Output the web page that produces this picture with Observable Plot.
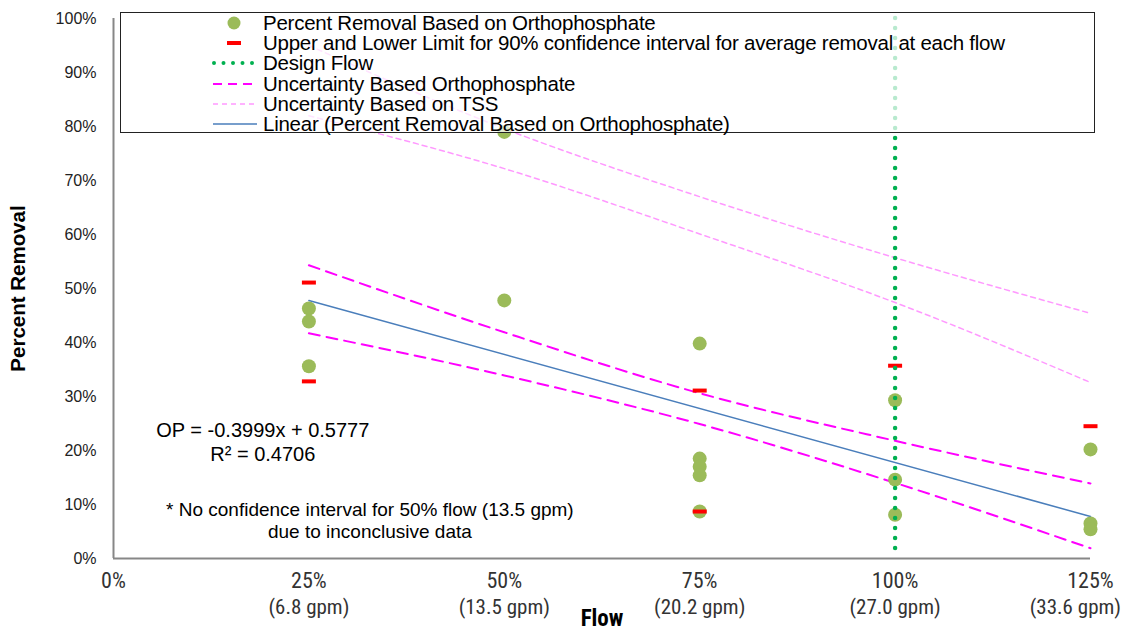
<!DOCTYPE html>
<html><head><meta charset="utf-8">
<script src="https://cdn.jsdelivr.net/npm/d3@7"></script>
<script src="https://cdn.jsdelivr.net/npm/@observablehq/plot@0.6"></script>
<style>
body{margin:0;background:#fff;font-family:"Liberation Sans",Arial,sans-serif;}
#wrap{position:relative;width:1125px;height:633px;overflow:hidden}
#legend{position:absolute;left:120px;top:12px;width:975px;height:121px;border:1.5px solid #222;background:rgba(255,255,255,0.72);box-sizing:border-box;}
.row{position:absolute;left:90px;height:20px;display:flex;align-items:center;font-size:20.5px;line-height:20px;color:#000;white-space:nowrap;letter-spacing:-0.25px}
.row svg{width:48px;height:20px;margin-right:4px;flex:none}
</style></head>
<body><div id="wrap"></div>
<script>
// ---- data ----
const flowTicks = [0, 0.25, 0.5, 0.75, 1.0, 1.25];
const flowPctLabels = ["0%", "25%", "50%", "75%", "100%", "125%"];
const gpmLabels = ["", "(6.8 gpm)", "(13.5 gpm)", "(20.2 gpm)", "(27.0 gpm)", "(33.6 gpm)"];
const yTicks = [0, 0.1, 0.2, 0.3, 0.4, 0.5, 0.6, 0.7, 0.8, 0.9, 1.0];

const removalFlow = [0.25, 0.25, 0.25, 0.5, 0.5, 0.75, 0.75, 0.75, 0.75, 0.75, 1.0, 1.0, 1.0, 1.25, 1.25, 1.25];
const removalPct  = [0.463, 0.439, 0.356, 0.478, 0.79, 0.398, 0.185, 0.170, 0.154, 0.087, 0.293, 0.146, 0.081, 0.202, 0.065, 0.054];

const limitFlow = [0.25, 0.25, 0.75, 0.75, 1.0, 1.25];
const limitPct  = [0.511, 0.328, 0.311, 0.087, 0.357, 0.245];

const bandFlow = [0.25, 0.5, 0.75, 1.0, 1.25];
const orthoUpper = [0.543, 0.419, 0.306, 0.218, 0.139];
const orthoLower = [0.417, 0.339, 0.249, 0.140, 0.019];
const tssUpper = [0.95, 0.796, 0.67, 0.557, 0.454];
const tssLower = [0.82, 0.722, 0.601, 0.474, 0.326];

const designFlow = [1.0];
const trendSlope = -0.3999, trendIntercept = 0.5777;
const trendFlow = [0.25, 1.25];

const equationText = "OP = -0.3999x + 0.5777\nR² = 0.4706";
const noteText = "* No confidence interval for 50% flow (13.5 gpm)\ndue to inconclusive data";

// ---- derived tables ----
const points = removalFlow.map((f, i) => ({flow: f, pct: removalPct[i]}));
const limits = limitFlow.map((f, i) => ({flow: f, pct: limitPct[i]}));
const band = (arr, name) => bandFlow.map((f, i) => ({flow: f, pct: arr[i], band: name}));
const ortho = [...band(orthoUpper, "u"), ...band(orthoLower, "l")];
const tss = [...band(tssUpper, "u"), ...band(tssLower, "l")];
const trend = trendFlow.map(f => ({flow: f, pct: trendSlope * f + trendIntercept}));

const barSymbol = {draw(ctx) { ctx.rect(-7, -2, 14, 4); }};
const narrow = "'Liberation Sans Narrow','Roboto Condensed','Liberation Sans',sans-serif";

const chart = Plot.plot({
  width: 1125, height: 633,
  marginLeft: 113, marginRight: 35, marginTop: 18, marginBottom: 75,
  style: {fontFamily: "'Liberation Sans', Arial, sans-serif", background: "transparent"},
  x: {domain: [0, 1.25]},
  y: {domain: [0, 1]},
  marks: [
    Plot.axisY({ticks: yTicks, tickFormat: d3.format(".0%"), tickSize: 0, tickPadding: 17, fontSize: 16, label: null, fill: "#222"}),
    Plot.axisX({ticks: flowTicks, tickFormat: (d, i) => flowPctLabels[i], tickSize: 0, tickPadding: 14, fontSize: 22, fontFamily: narrow, label: null, fill: "#333"}),
    Plot.axisX({ticks: flowTicks, tickFormat: (d, i) => gpmLabels[i], tickSize: 0, tickPadding: 41, fontSize: 21, fontFamily: narrow, letterSpacing: "0.5px", label: null, fill: "#333"}),
    Plot.text(["Flow"], {frameAnchor: "bottom", dy: 67, fontWeight: "bold", fontSize: 23, fontFamily: narrow, fill: "#000"}),
    Plot.text(["Percent Removal"], {frameAnchor: "left", textAnchor: "middle", dx: -95, rotate: -90, fontWeight: "bold", fontSize: 20.5, fill: "#000"}),
    Plot.line(tss, {x: "flow", y: "pct", z: "band", stroke: "#FF99FF", strokeWidth: 1.5, strokeDasharray: "5 4", curve: "monotone-x"}),
    Plot.line(ortho, {x: "flow", y: "pct", z: "band", stroke: "#FF00FF", strokeWidth: 2, strokeDasharray: "11 7", curve: "monotone-x"}),
    Plot.line(trend, {x: "flow", y: "pct", stroke: "#4A7EBB", strokeWidth: 1.5}),
    Plot.dot(points, {x: "flow", y: "pct", r: 7, fill: "#9BBB59"}),
    Plot.dot(limits, {x: "flow", y: "pct", symbol: barSymbol, fill: "#FF0000", r: 3}),
    Plot.ruleX(designFlow, {stroke: "#00B050", strokeWidth: 4.5, strokeDasharray: "0 10", strokeLinecap: "round"}),
    Plot.ruleX([0], {stroke: "#878787", strokeWidth: 2}),
    Plot.ruleY([0], {stroke: "#878787", strokeWidth: 2}),
    Plot.text([equationText], {x: 0.191, y: 0.217, fontSize: 20, lineHeight: 1.2, fill: "#000", letterSpacing: "-0.2px"}),
    Plot.text([noteText], {x: 0.328, y: 0.072, fontSize: 19, lineHeight: 1.16, fill: "#000", letterSpacing: "-0.5px"})
  ]
});
document.getElementById("wrap").appendChild(chart);

// keep the last gpm label inside the picture, as in the reference
function fitLabels() {
  const svgBox = chart.getBoundingClientRect();
  chart.querySelectorAll("text").forEach(t => {
    if (t.textContent.trim() === gpmLabels[gpmLabels.length - 1]) {
      t.removeAttribute("dx");
      const r = t.getBoundingClientRect();
      const over = r.right - svgBox.left - 1121;
      if (over > 0) t.setAttribute("dx", String(-over));
    }
  });
}
fitLabels();
if (document.fonts && document.fonts.ready) document.fonts.ready.then(fitLabels);

// ---- legend ----
const legendItems = [
  {label: "Percent Removal Based on Orthophosphate", kind: "dot"},
  {label: "Upper and Lower Limit for 90% confidence interval for average removal at each flow", kind: "bar"},
  {label: "Design Flow", kind: "dotted"},
  {label: "Uncertainty Based Orthophosphate", kind: "ortho"},
  {label: "Uncertainty Based on TSS", kind: "tss"},
  {label: "Linear (Percent Removal Based on Orthophosphate)", kind: "trend"}
];
const symbolSvg = {
  dot: '<circle cx="23" cy="10" r="6.5" fill="#9BBB59"/>',
  bar: '<rect x="16" y="8" width="14" height="4" fill="#FF0000"/>',
  dotted: '<line x1="3" x2="45" y1="10" y2="10" stroke="#00B050" stroke-width="4" stroke-dasharray="0 9.5" stroke-linecap="round"/>',
  ortho: '<line x1="2" x2="46" y1="10" y2="10" stroke="#FF00FF" stroke-width="2" stroke-dasharray="9 6"/>',
  tss: '<line x1="2" x2="46" y1="10" y2="10" stroke="#FF99FF" stroke-width="1.5" stroke-dasharray="5 4"/>',
  trend: '<line x1="2" x2="46" y1="10" y2="10" stroke="#4A7EBB" stroke-width="1.5"/>'
};
const legend = document.createElement("div");
legend.id = "legend";
legendItems.forEach((it, i) => {
  const row = document.createElement("div");
  row.className = "row";
  row.style.top = (0 + i * 20.2) + "px";
  row.innerHTML = `<svg viewBox="0 0 48 20">${symbolSvg[it.kind]}</svg><span>${it.label}</span>`;
  legend.appendChild(row);
});
document.getElementById("wrap").appendChild(legend);
</script>
</body></html>
